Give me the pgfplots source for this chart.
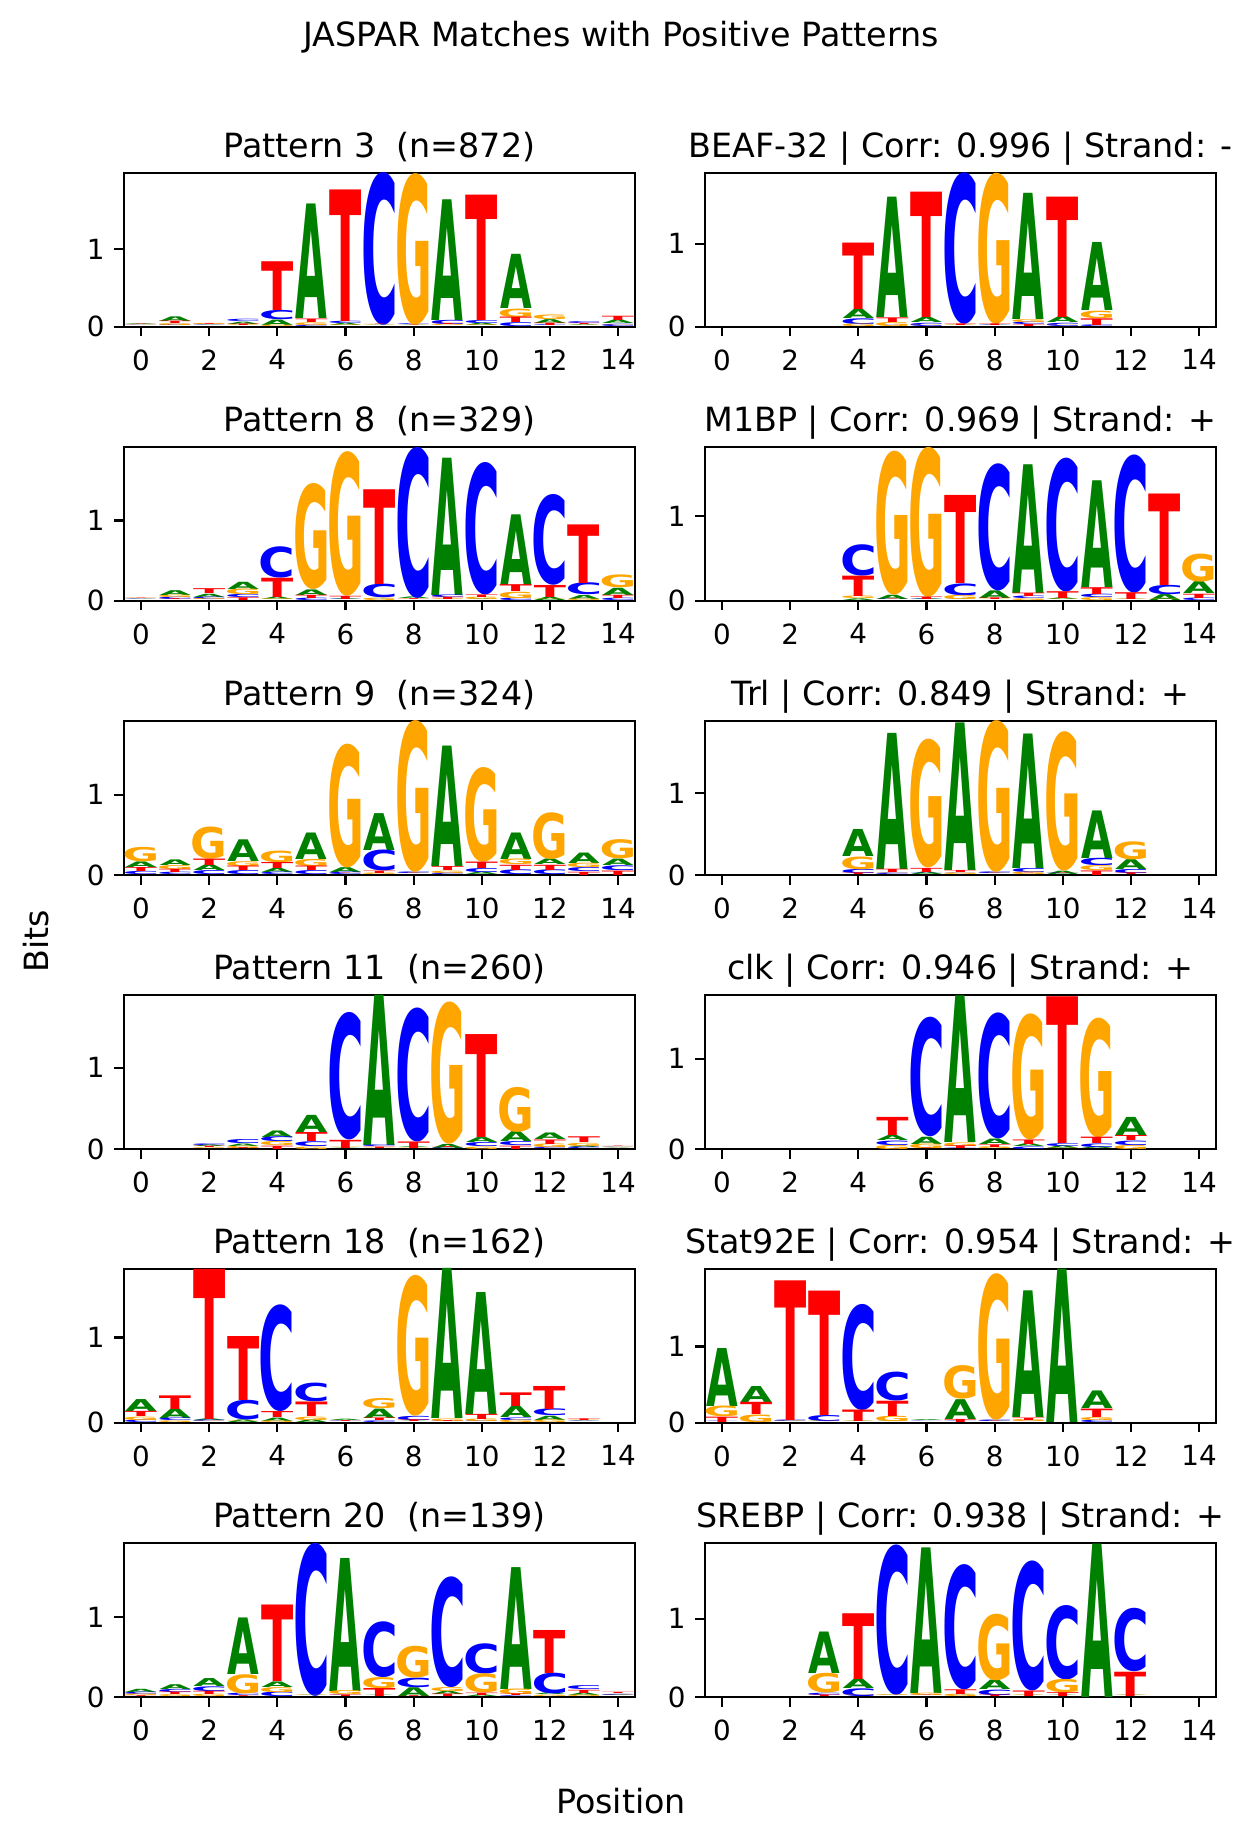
\documentclass[border=0pt]{standalone}
\usepackage{pgfplots}
\pgfplotsset{compat=1.18}
\usepackage{fontspec}
\usepackage{graphicx}
\setmainfont{DejaVu Sans}
\newfontfamily\logofont{DejaVu Sans}
\definecolor{colA}{RGB}{0,128,0}
\definecolor{colC}{RGB}{0,0,255}
\definecolor{colG}{RGB}{255,165,0}
\definecolor{colT}{RGB}{255,0,0}
\def\wA{11.4pt}\def\wC{13.2pt}\def\wG{13.2pt}\def\wT{11.6pt}
\def\myunit{28}
\pgfdeclareplotmark{nothing}{}
\newcommand\logoletter[3]{%
  \ifdim#3pt>0.003pt
    \pgfmathsetmacro\lb{#2*\myunit}%
    \pgfmathsetmacro\lh{#3*\myunit}%
    \node[anchor=south,inner sep=0pt,outer sep=0pt] at (0pt,\lb pt) {\resizebox*{\csname w#1\endcsname}{\lh pt}{\color{col#1}\logofont\bfseries #1}};%
  \fi}
\newcommand\drawcolumn{%
  \pgfmathsetmacro\kA{\hA+0.0001}%
  \pgfmathsetmacro\kC{\hC+0.0002}%
  \pgfmathsetmacro\kG{\hG+0.0003}%
  \pgfmathsetmacro\kT{\hT+0.0004}%
  \pgfmathsetmacro\bA{(\kC<\kA)*\hC+(\kG<\kA)*\hG+(\kT<\kA)*\hT}%
  \pgfmathsetmacro\bC{(\kA<\kC)*\hA+(\kG<\kC)*\hG+(\kT<\kC)*\hT}%
  \pgfmathsetmacro\bG{(\kA<\kG)*\hA+(\kC<\kG)*\hC+(\kT<\kG)*\hT}%
  \pgfmathsetmacro\bT{(\kA<\kT)*\hA+(\kC<\kT)*\hC+(\kG<\kT)*\hG}%
  \logoletter{A}{\bA}{\hA}%
  \logoletter{C}{\bC}{\hC}%
  \logoletter{G}{\bG}{\hG}%
  \logoletter{T}{\bT}{\hT}%
}
\pgfplotsset{
  every axis title shift=0pt,
  logoaxis/.style={
    scale only axis, width=184pt, height=55.44pt,
    xmin=-0.5, xmax=14.5, ymin=0,
    xtick={0,2,...,14}, ytick={0,1},
    tick align=outside, xtick pos=left, ytick pos=left,
    major tick length=3.5pt,
    every tick/.style={black, line width=0.8pt},
    axis line style={line width=0.8pt, black},
    tick label style={font=\fontsize{10}{12}\selectfont},
    xticklabel style={yshift=-1.2pt},
    /pgf/number format/assume math mode=true,
    title style={font=\fontsize{12}{14}\selectfont, at={(0.5,1)}, anchor=base, yshift=5.6pt},
    anchor=north west,
  },
  logo ymax/.style={ymax=#1, /utils/exec={\pgfmathsetmacro\tmpu{55.44/#1}\xdef\myunit{\tmpu}}},
  logoplot/.style={scatter, only marks, mark=nothing, point meta=\thisrow{x},
    visualization depends on={value \thisrow{A}\as\hA},
    visualization depends on={value \thisrow{C}\as\hC},
    visualization depends on={value \thisrow{G}\as\hG},
    visualization depends on={value \thisrow{T}\as\hT},
    scatter/@pre marker code/.code={\drawcolumn},
    scatter/@post marker code/.code={}},
}
\begin{document}
\begin{tikzpicture}
\path[use as bounding box] (0,0) rectangle (450.72pt,-662.04pt);
\node[anchor=base, font=\fontsize{12}{14}\selectfont] at (223.6pt,-16.8pt) {JASPAR Matches with Positive Patterns};
\node[anchor=base, rotate=90, font=\fontsize{12}{14}\selectfont] at (17.4pt,-338.8pt) {Bits};
\node[anchor=base, font=\fontsize{12}{14}\selectfont] at (223.6pt,-652.8pt) {Position};

% Row 1
\begin{axis}[logoaxis, logo ymax=1.99, at={(44.64pt,-62.17pt)}, title={Pattern 3\ \ (n=872)}]
\addplot[logoplot] table[x=x, y expr=0] {
x A C G T
0 0.01 0.005 0.005 0.005
1 0.06 0.015 0.025 0.03
2 0.005 0.005 0.015 0.01
3 0.03 0.03 0.01 0.02
4 0.07 0.12 0.02 0.63
5 1.48 0.02 0.035 0.045
6 0.03 0.03 0.01 1.70
7 0.005 1.975 0.005 0.005
8 0.005 0.01 1.96 0.005
9 1.56 0.055 0.015 0.015
10 0.03 0.04 0.01 1.62
11 0.70 0.05 0.11 0.07
12 0.05 0.01 0.06 0.03
13 0.01 0.025 0.005 0.015
14 0.045 0.03 0.005 0.055
};
\end{axis}
\begin{axis}[logoaxis, logo ymax=1.855, at={(253.8pt,-62.17pt)}, title={BEAF-32 | Corr: 0.996 | Strand: -}]
\addplot[logoplot] table[x=x, y expr=0] {
x A C G T
4 0.11 0.07 0.03 0.80
5 1.45 0.005 0.05 0.056
6 0.06 0.04 0.005 1.51
7 0.005 1.825 0.005 0.02
8 0.005 0.005 1.82 0.02
9 1.52 0.03 0.035 0.025
10 0.07 0.04 0.005 1.45
11 0.82 0.02 0.09 0.08
};
\end{axis}

% Row 2
\begin{axis}[logoaxis, logo ymax=1.918, at={(44.64pt,-160.81pt)}, title={Pattern 8\ \ (n=329)}]
\addplot[logoplot] table[x=x, y expr=0] {
x A C G T
0 0.005 0.005 0.005 0.005
1 0.06 0.03 0.03 0.01
2 0.04 0.03 0.015 0.06
3 0.09 0.04 0.07 0.035
4 0.03 0.39 0.01 0.24
5 0.07 0.03 1.32 0.04
6 0.01 0.005 1.80 0.04
7 0.005 0.17 0.03 1.18
8 0.02 1.88 0.005 0.01
9 1.71 0.032 0.01 0.028
10 0.01 1.65 0.03 0.032
11 0.88 0.03 0.08 0.085
12 0.04 1.13 0.005 0.15
13 0.05 0.15 0.02 0.73
14 0.09 0.03 0.16 0.04
};
\end{axis}
\begin{axis}[logoaxis, logo ymax=1.818, at={(253.8pt,-160.81pt)}, title={M1BP | Corr: 0.969 | Strand: +}]
\addplot[logoplot] table[x=x, y expr=0] {
x A C G T
4 0.02 0.37 0.03 0.24
5 0.05 0.005 1.70 0.005
6 0.01 0.005 1.77 0.03
7 0.01 0.14 0.05 1.04
8 0.09 1.50 0.005 0.02
9 1.52 0.03 0.02 0.04
10 0.02 1.58 0.005 0.08
11 1.26 0.04 0.035 0.08
12 0.005 1.63 0.005 0.08
13 0.07 0.11 0.005 1.08
14 0.14 0.03 0.33 0.05
};
\end{axis}

% Row 3
\begin{axis}[logoaxis, logo ymax=1.918, at={(44.64pt,-259.56pt)}, title={Pattern 9\ \ (n=324)}]
\addplot[logoplot] table[x=x, y expr=0] {
x A C G T
0 0.07 0.04 0.18 0.05
1 0.07 0.03 0.05 0.04
2 0.07 0.05 0.40 0.08
3 0.27 0.05 0.06 0.055
4 0.05 0.03 0.145 0.075
5 0.33 0.05 0.09 0.055
6 0.06 0.03 1.54 0.005
7 0.46 0.26 0.02 0.03
8 0.005 0.02 1.89 0.005
9 1.50 0.02 0.03 0.05
10 0.03 0.05 1.18 0.08
11 0.33 0.06 0.07 0.065
12 0.07 0.06 0.58 0.065
13 0.13 0.05 0.055 0.04
14 0.08 0.06 0.24 0.055
};
\end{axis}
\begin{axis}[logoaxis, logo ymax=1.878, at={(253.8pt,-259.56pt)}, title={Trl | Corr: 0.849 | Strand: +}]
\addplot[logoplot] table[x=x, y expr=0] {
x A C G T
4 0.33 0.05 0.155 0.02
5 1.66 0.02 0.005 0.04
6 0.03 0.005 1.57 0.05
7 1.80 0.005 0.02 0.025
8 0.005 0.02 1.85 0.005
9 1.64 0.05 0.03 0.005
10 0.04 0.005 1.70 0.005
11 0.58 0.09 0.06 0.055
12 0.12 0.05 0.22 0.02
};
\end{axis}

% Row 4
\begin{axis}[logoaxis, logo ymax=1.885, at={(44.64pt,-358.31pt)}, title={Pattern 11\ \ (n=260)}]
\addplot[logoplot] table[x=x, y expr=0] {
x A C G T
2 0.02 0.02 0.01 0.015
3 0.03 0.05 0.028 0.01
4 0.08 0.06 0.05 0.04
5 0.21 0.06 0.03 0.11
6 0.005 1.56 0.005 0.10
7 1.84 0.02 0.005 0.018
8 0.01 1.64 0.005 0.08
9 0.05 0.005 1.74 0.01
10 0.06 0.05 0.03 1.26
11 0.12 0.05 0.55 0.04
12 0.08 0.02 0.045 0.055
13 0.02 0.018 0.04 0.07
14 0.005 0.005 0.005 0.005
};
\end{axis}
\begin{axis}[logoaxis, logo ymax=1.70, at={(253.8pt,-358.31pt)}, title={clk | Corr: 0.946 | Strand: +}]
\addplot[logoplot] table[x=x, y expr=0] {
x A C G T
5 0.055 0.05 0.045 0.20
6 0.08 1.32 0.05 0.005
7 1.62 0.005 0.04 0.03
8 0.06 1.39 0.02 0.03
9 0.03 0.028 1.39 0.05
10 0.03 0.032 0.005 1.62
11 0.02 0.04 1.32 0.07
12 0.20 0.05 0.045 0.055
};
\end{axis}

% Row 5
\begin{axis}[logoaxis, logo ymax=1.805, at={(44.64pt,-456.73pt)}, title={Pattern 18\ \ (n=162)}]
\addplot[logoplot] table[x=x, y expr=0] {
x A C G T
0 0.14 0.03 0.04 0.06
1 0.11 0.03 0.02 0.16
2 0.02 0.018 0.005 1.76
3 0.03 0.23 0.005 0.75
4 0.04 1.25 0.02 0.07
5 0.03 0.22 0.04 0.17
6 0.015 0.005 0.003 0.01
7 0.11 0.02 0.12 0.03
8 0.005 0.05 1.65 0.02
9 1.76 0.005 0.03 0.01
10 1.43 0.01 0.03 0.06
11 0.13 0.03 0.028 0.16
12 0.05 0.08 0.03 0.27
13 0.005 0.005 0.005 0.02
};
\end{axis}
\begin{axis}[logoaxis, logo ymax=2.018, at={(253.8pt,-456.73pt)}, title={Stat92E | Corr: 0.954 | Strand: +}]
\addplot[logoplot] table[x=x, y expr=0] {
x A C G T
0 0.76 0.005 0.14 0.07
1 0.21 0.005 0.10 0.16
2 0.005 0.02 0.005 1.83
3 0.005 0.08 0.005 1.63
4 0.005 1.39 0.005 0.15
5 0.01 0.38 0.07 0.20
6 0.012 0.005 0.003 0.003
7 0.26 0.005 0.44 0.04
8 0.005 0.02 1.92 0.005
9 1.66 0.005 0.028 0.032
10 2.01 0 0 0
11 0.23 0.03 0.04 0.11
};
\end{axis}

% Row 6
\begin{axis}[logoaxis, logo ymax=1.933, at={(44.64pt,-555.48pt)}, title={Pattern 20\ \ (n=139)}]
\addplot[logoplot] table[x=x, y expr=0] {
x A C G T
0 0.04 0.03 0.02 0.01
1 0.06 0.04 0.025 0.03
2 0.10 0.06 0.03 0.04
3 0.71 0.03 0.24 0.01
4 0.07 0.058 0.062 0.96
5 0.005 1.92 0.005 0.003
6 1.67 0.005 0.05 0.02
7 0.005 0.70 0.14 0.10
8 0.11 0.12 0.40 0.01
9 0.04 1.39 0.05 0.03
10 0.02 0.38 0.24 0.03
11 1.53 0.01 0.07 0.02
12 0.02 0.26 0.018 0.54
13 0.03 0.05 0.02 0.04
14 0.01 0.015 0.005 0.016
};
\end{axis}
\begin{axis}[logoaxis, logo ymax=1.967, at={(253.8pt,-555.48pt)}, title={SREBP | Corr: 0.938 | Strand: +}]
\addplot[logoplot] table[x=x, y expr=0] {
x A C G T
3 0.53 0.03 0.25 0.02
4 0.12 0.10 0.005 0.84
5 0.005 1.92 0.01 0.003
6 1.86 0.005 0.03 0.005
7 0.005 1.60 0.03 0.06
8 0.12 0.07 0.85 0.02
9 0.005 1.66 0.005 0.07
10 0.005 0.95 0.17 0.05
11 1.96 0 0 0
12 0.005 0.81 0.005 0.31
};
\end{axis}
\end{tikzpicture}
\end{document}
